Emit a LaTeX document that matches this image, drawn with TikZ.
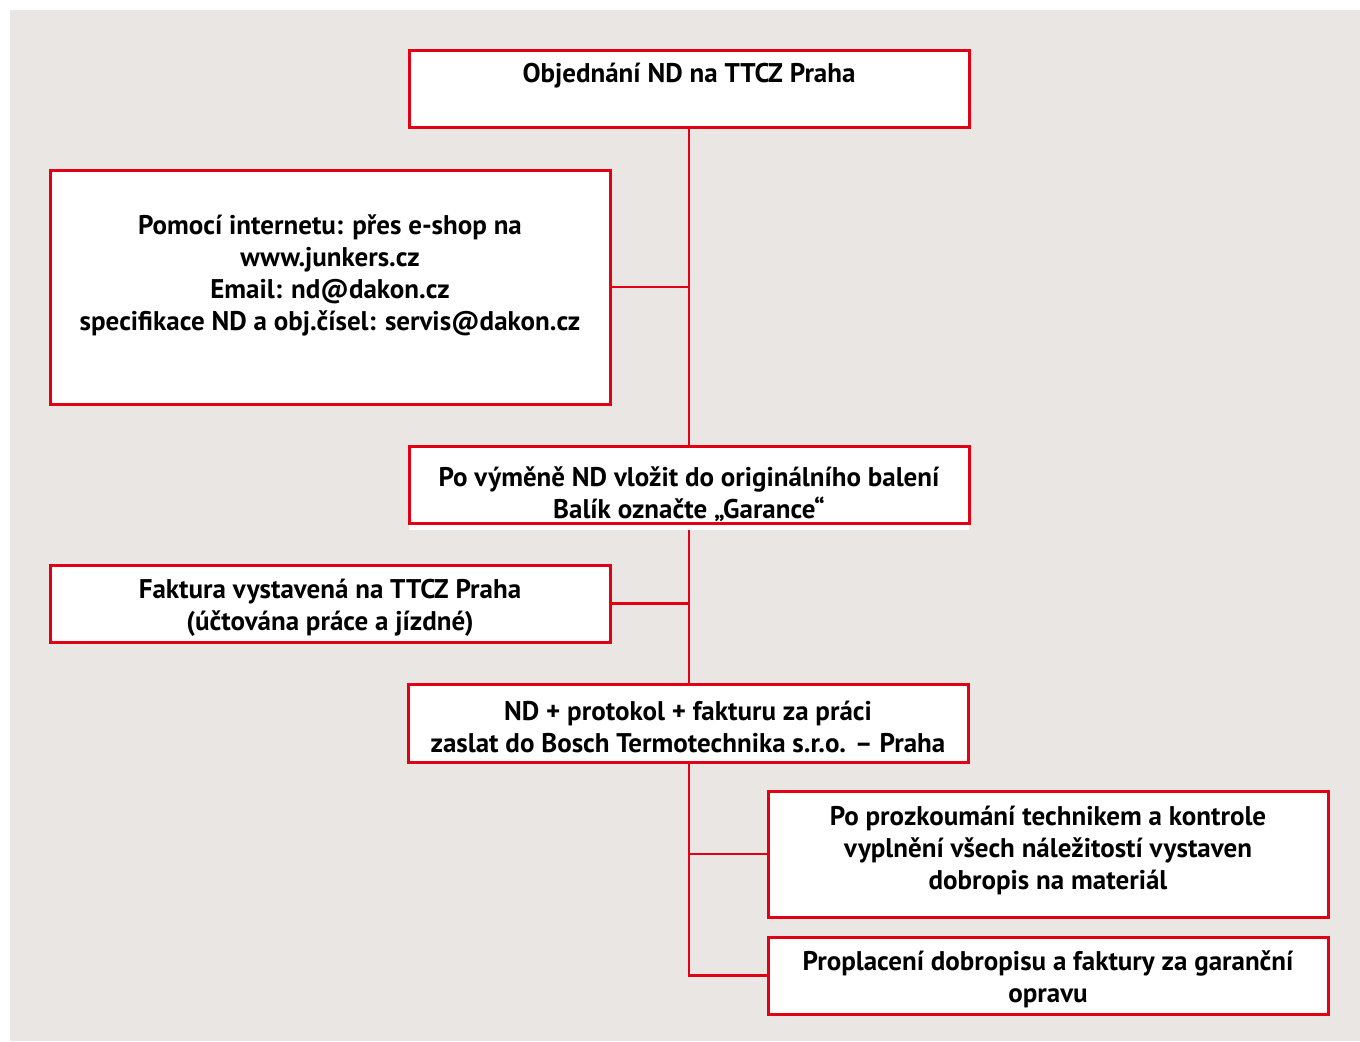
\documentclass[tikz,border=0pt]{standalone}
\usepackage{fontspec}
\setmainfont{PT Sans}
\definecolor{boschred}{RGB}{226,0,21}
\definecolor{paper}{RGB}{234,230,227}

\begin{document}
\begin{tikzpicture}[x=0.5pt,y=-0.5pt]

      \useasboundingbox (0,0) rectangle (1360,1041);
      \fill[paper] (10,10) rectangle (1360,1041);
      \fill[white] (409,446) rectangle (969,530);

      \begin{scope}[every node/.style={draw=boschred,line width=1.5pt,fill=white,rectangle,inner sep=0pt,minimum width=280pt}]
        \node[minimum height=38.5pt] (obj)   at (689,88.5)  {};
        \node[minimum height=117pt]  (inet)  at (330,287)   {};
        \node[minimum height=38.5pt] (bal)   at (689,484.5) {};
        \node[minimum height=38.5pt] (fakt)  at (330,603.5) {};
        \node[minimum height=39pt]   (zasl)  at (688,723)   {};
        \node[minimum height=63pt]   (prozk) at (1048,854)  {};
        \node[minimum height=38.5pt] (propl) at (1048,975.5) {};
      \end{scope}

      \begin{scope}[every node/.style={font=\bfseries\fontsize{13.5}{16}\selectfont,align=center,inner sep=0pt}]
        \node (obj-t)   at (689,76)    {Objednání ND na TTCZ Praha};
        \node (inet-t)  at (330,275.5) {Pomocí internetu: přes e-shop na\\www.junkers.cz\\Email: nd@dakon.cz\\specifikace ND a obj.čísel: servis@dakon.cz};
        \node (bal-t)   at (689,494.5) {Po výměně ND vložit do originálního balení\\Balík označte „Garance“};
        \node (fakt-t)  at (330,607.5) {Faktura vystavená na TTCZ Praha\\(účtována práce a jízdné)};
        \node (zasl-t)  at (688,727)   {ND + protokol + fakturu za práci\\zaslat do Bosch Termotechnika s.r.o. – Praha};
        \node (prozk-t) at (1048,850)  {Po prozkoumání technikem a kontrole\\vyplnění všech náležitostí vystaven\\dobropis na materiál};
        \node (propl-t) at (1048,979)  {Proplacení dobropisu a faktury za garanční\\opravu};
      \end{scope}

      \begin{scope}[draw=boschred,line width=1.2pt]
        \coordinate (bal-s) at (689,530);
        \draw (obj) -- (bal);
        \draw (inet.east) -- (inet.east -| obj.south);
        \draw (bal-s) -- (bal-s |- zasl.north);
        \draw (fakt.east) -- (fakt.east -| bal-s);
        \draw (zasl.south -| bal-s) -- (propl.west -| bal-s) -- (propl.west);
        \draw (prozk.west -| bal-s) -- (prozk.west);
      \end{scope}

    \end{tikzpicture}
\end{document}
